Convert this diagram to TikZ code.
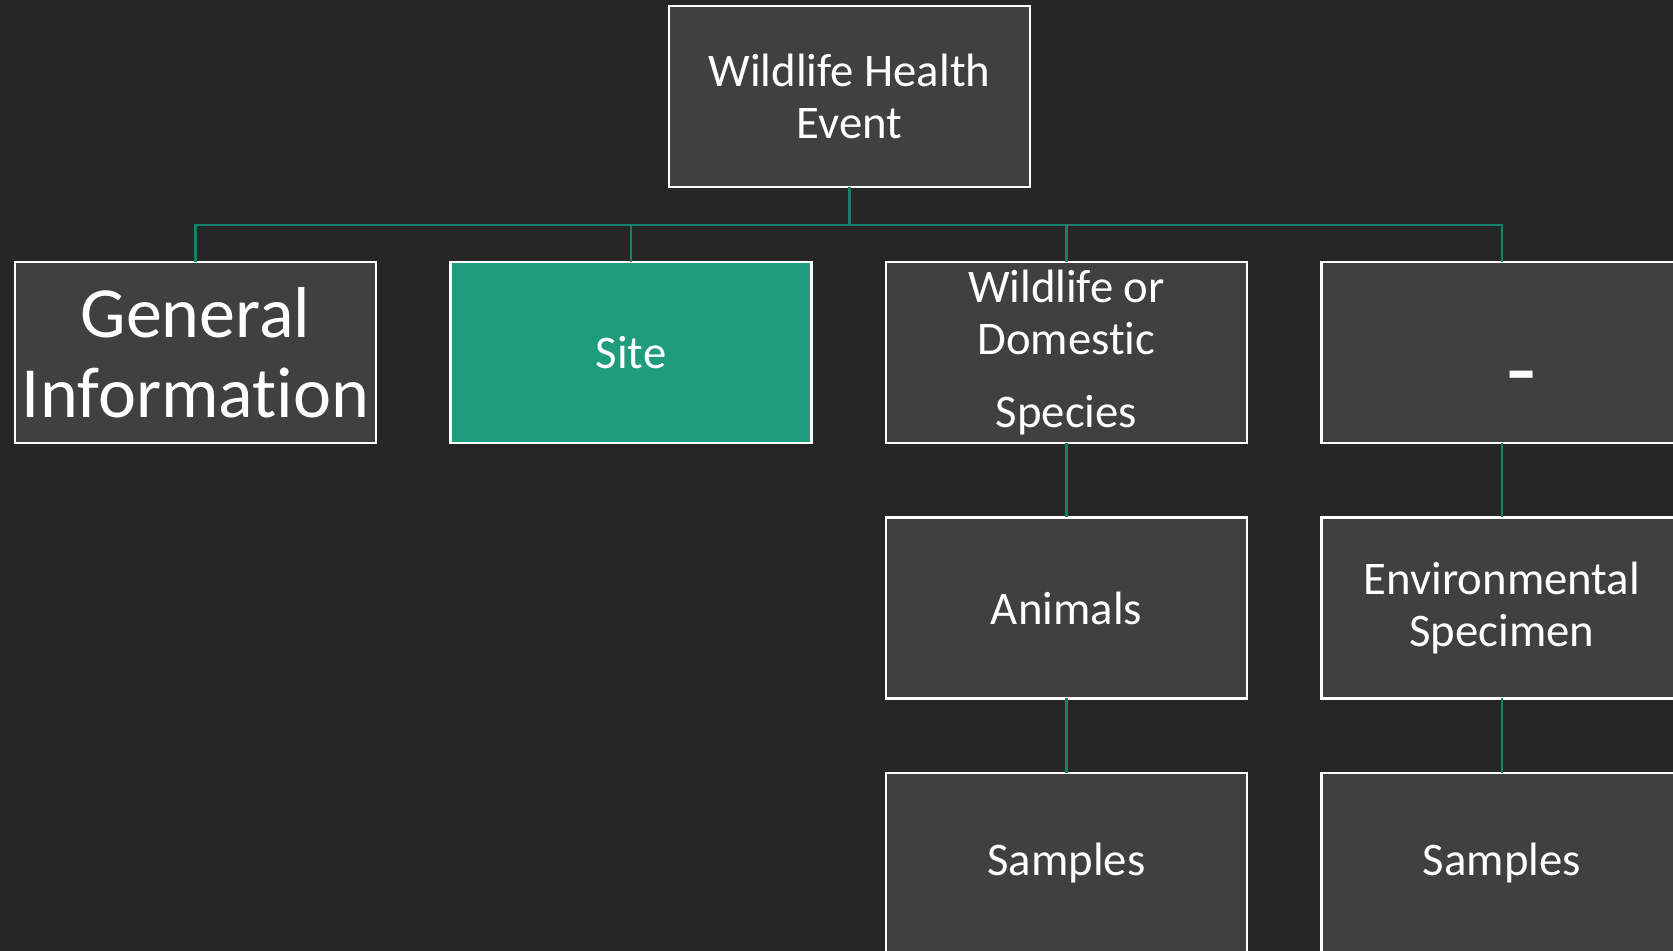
\documentclass[tikz,border=0pt]{standalone}
\usepackage{fontspec}
\setmainfont{Carlito}[Ligatures=NoCommon]
\usetikzlibrary{positioning}
\definecolor{bgdark}{HTML}{262626}
\definecolor{boxgrey}{HTML}{404040}
\definecolor{sitegreen}{HTML}{1E9C7C}
\definecolor{linkgreen}{HTML}{17806A}

\begin{document}
\begin{tikzpicture}
  % Define styles for nodes
  \tikzstyle{box} = [draw=white, rectangle, fill=boxgrey, line width=0.8pt,
  minimum width=3.61cm, minimum height=1.81cm, inner sep=0pt, outer sep=0pt,
  text=white, align=center, font=\fontsize{13.3}{15}\selectfont]
  \tikzstyle{sitebox} = [box, fill=sitegreen]
  \tikzstyle{link} = [draw=linkgreen, line width=0.7pt]

  % Dark background
  \useasboundingbox (0,0) rectangle (16.73,-9.51);
  \clip (0,0) rectangle (16.73,-9.51);
  \fill[bgdark] (0,0) rectangle (16.73,-9.51);

  % Top of the tree
  \node[box] (event) at (8.495,-0.965) {Wildlife Health\\Event};

  % Second row
  \node[box, font=\fontsize{20.5}{22.7}\selectfont] (general) at (1.955,-3.525)
  {General\\Information};
  \node[sitebox, right=0.745cm of general] (site) {Site};
  \node[box, right=0.745cm of site] (species)
  {Wildlife or\\Domestic\\[5.7pt]Species};
  \node[box, right=0.745cm of species, font=\fontsize{28}{30}\selectfont,
  text height=1cm, text depth=0pt] (other) {\hspace*{0.4cm}-};

  % Lower rows
  \node[box, below=0.745cm of species] (animals) {Animals};
  \node[box, below=0.745cm of other] (envspec) {Environmental\\Specimen};
  \node[box, below=0.745cm of animals] (samplesA) {Samples};
  \node[box, below=0.745cm of envspec] (samplesB) {Samples};

  % Connections
  \draw[link] (event.south) -- ++(0,-0.38) -| (general.north);
  \draw[link] (event.south) -- ++(0,-0.38) -| (site.north);
  \draw[link] (event.south) -- ++(0,-0.38) -| (species.north);
  \draw[link] (event.south) -- ++(0,-0.38) -| (other.north);
  \draw[link] (species) -- (animals);
  \draw[link] (animals) -- (samplesA);
  \draw[link] (other) -- (envspec);
  \draw[link] (envspec) -- (samplesB);
\end{tikzpicture}
\end{document}
